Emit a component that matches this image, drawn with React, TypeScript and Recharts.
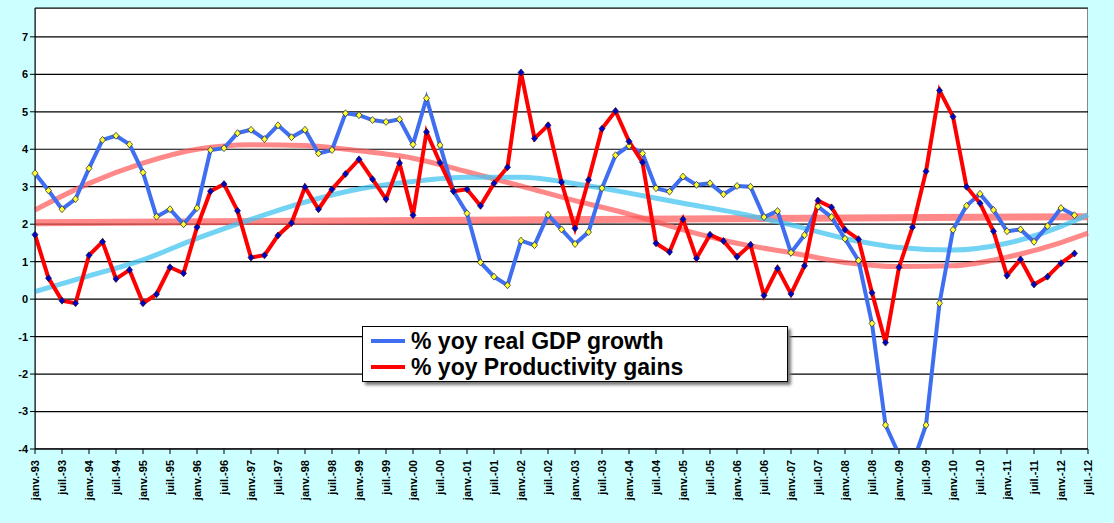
import { LineChart, Line, XAxis, YAxis, CartesianGrid } from 'recharts'

const years = ['93','94','95','96','97','98','99','00','01','02','03','04','05','06','07','08','09','10','11','12']
const months = ['janv.', 'avr.', 'juil.', 'oct.']

const gdpGrowth = [
  3.36, 2.9, 2.4, 2.67, 3.49, 4.25, 4.36, 4.13, 3.38, 2.2, 2.4, 2.0, 2.43, 3.98, 4.03, 4.43,
  4.52, 4.27, 4.64, 4.32, 4.52, 3.89, 3.98, 4.96, 4.91, 4.78, 4.73, 4.8, 4.13, 5.36, 4.11, 2.88,
  2.29, 0.98, 0.6, 0.37, 1.56, 1.44, 2.25, 1.86, 1.47, 1.79, 2.96, 3.84, 4.09, 3.89, 2.96, 2.87,
  3.27, 3.05, 3.09, 2.8, 3.02, 3.0, 2.19, 2.35, 1.24, 1.71, 2.47, 2.19, 1.61, 1.03, -0.65, -3.36,
  -4.15, -4.4, -3.36, -0.11, 1.85, 2.49, 2.81, 2.38, 1.81, 1.86, 1.53, 1.95, 2.43, 2.24,
]
const productivity = [
  1.72, 0.56, -0.04, -0.11, 1.17, 1.53, 0.54, 0.78, -0.11, 0.13, 0.85, 0.69, 1.92, 2.88, 3.07, 2.36,
  1.11, 1.17, 1.7, 2.03, 2.99, 2.4, 2.93, 3.34, 3.73, 3.2, 2.67, 3.63, 2.24, 4.46, 3.64, 2.88,
  2.93, 2.49, 3.09, 3.52, 6.05, 4.29, 4.64, 3.12, 1.89, 3.18, 4.55, 5.02, 4.21, 3.65, 1.49, 1.26,
  2.13, 1.09, 1.72, 1.55, 1.13, 1.45, 0.1, 0.82, 0.14, 0.89, 2.63, 2.45, 1.85, 1.6, 0.17, -1.16,
  0.85, 1.92, 3.41, 5.57, 4.87, 3.0, 2.56, 1.81, 0.63, 1.06, 0.39, 0.6, 0.96, 1.22,
]
// trend lines, read at each January (and at the right edge)
const gdpTrend = [0.2, 0.62, 1.05, 1.62, 2.13, 2.59, 2.94, 3.14, 3.25, 3.25, 3.08, 2.83, 2.56, 2.3, 1.98, 1.62, 1.38, 1.31, 1.49, 1.94]
const prodTrend = [2.38, 3.09, 3.63, 4.0, 4.12, 4.1, 3.96, 3.76, 3.4, 3.02, 2.63, 2.27, 1.85, 1.49, 1.24, 0.98, 0.87, 0.89, 1.12, 1.51]
const trendEnd = { gdp: 2.25, prod: 1.76 }
const flatTrend = [2.04, 2.2]
const yTicks = [-4, -3, -2, -1, 0, 1, 2, 3, 4, 5, 6, 7]

const n = 79
const data = Array.from({ length: n }, (_, i) => {
  const y = Math.floor(i / 4)
  const q = i % 4
  const last = i === n - 1
  return {
    name: `${months[q]}-${years[y]}`,
    gdp: i < gdpGrowth.length ? gdpGrowth[i] : null,
    prod: i < productivity.length ? productivity[i] : null,
    gdpT: last ? trendEnd.gdp : q === 0 ? gdpTrend[y] : null,
    prodT: last ? trendEnd.prod : q === 0 ? prodTrend[y] : null,
    flat: i === 0 ? flatTrend[0] : last ? flatTrend[1] : null,
  }
})

const Diamond = (fill: string) => (props: any) => {
  const { cx, cy, key } = props
  if (cx == null || cy == null || props.value == null) return <g key={key} />
  return (
    <path
      key={key}
      d={`M${cx},${cy - 3.5}L${cx + 3},${cy}L${cx},${cy + 3.5}L${cx - 3},${cy}Z`}
      fill={fill}
      stroke="#222"
      strokeWidth={0.7}
    />
  )
}

const XTick = (props: any) => {
  const { x, y, payload } = props
  return (
    <text
      transform={`translate(${x + 4},${y + 4}) rotate(-90)`}
      textAnchor="end"
      fontSize={11}
      fontWeight="bold"
      fontFamily="Arial, Liberation Sans, sans-serif"
      fill="#000"
    >
      {payload.value}
    </text>
  )
}

export default function App() {
  return (
    <div style={{ position: 'absolute', left: 0, top: 0, width: 1114, height: 523, background: '#ccffff', fontFamily: 'Arial, Liberation Sans, sans-serif' }}>
      <div style={{ position: 'absolute', left: 35, top: 8, width: 1053, height: 441, background: '#fff', border: '1px solid #888', boxSizing: 'border-box' }} />
      <div style={{ position: 'absolute', left: 0, top: 0 }}>
        <LineChart width={1114} height={523} data={data} margin={{ top: 8, right: 26, left: 5, bottom: 14 }}>
          <CartesianGrid vertical={false} stroke="#000" strokeWidth={1.2} />
          <XAxis dataKey="name" interval={1} tick={<XTick />} height={60} stroke="#000" tickSize={5} />
          <YAxis
            domain={[-4, 7.77]}
            ticks={yTicks}
            allowDataOverflow
            width={30}
            stroke="#000"
            tickSize={5}
            tick={{ fontSize: 11, fontWeight: 'bold', fill: '#000' }}
          />
          <Line dataKey="flat" connectNulls stroke="#ff5555" strokeOpacity={0.7} strokeWidth={7} dot={false} isAnimationActive={false} />
          <Line dataKey="prodT" type="monotone" connectNulls stroke="#ff5555" strokeOpacity={0.7} strokeWidth={5} dot={false} isAnimationActive={false} />
          <Line dataKey="gdpT" type="monotone" connectNulls stroke="#44c4f0" strokeOpacity={0.75} strokeWidth={5} dot={false} isAnimationActive={false} />
          <Line dataKey="gdp" stroke="#3f6ff0" strokeWidth={4} dot={Diamond('#ffff33')} isAnimationActive={false} />
          <Line dataKey="prod" stroke="#ff0000" strokeWidth={4} dot={Diamond('#0000cc')} isAnimationActive={false} />
        </LineChart>
      </div>
      <div style={{ position: 'absolute', left: 362, top: 326, width: 426, height: 56, background: '#fff', border: '1px solid #000', boxShadow: '3px 3px 3px #777', boxSizing: 'border-box', padding: '1px 0 0 8px', fontWeight: 'bold', fontSize: 23, lineHeight: '26px' }}>
        {[['#3f6ff0', '% yoy real GDP growth'], ['#ff0000', '% yoy Productivity gains']].map(([c, t]) => (
          <div key={t} style={{ display: 'flex', alignItems: 'center' }}>
            <span style={{ display: 'inline-block', width: 34, height: 4, background: c, marginRight: 6 }} />
            {t}
          </div>
        ))}
      </div>
    </div>
  )
}
